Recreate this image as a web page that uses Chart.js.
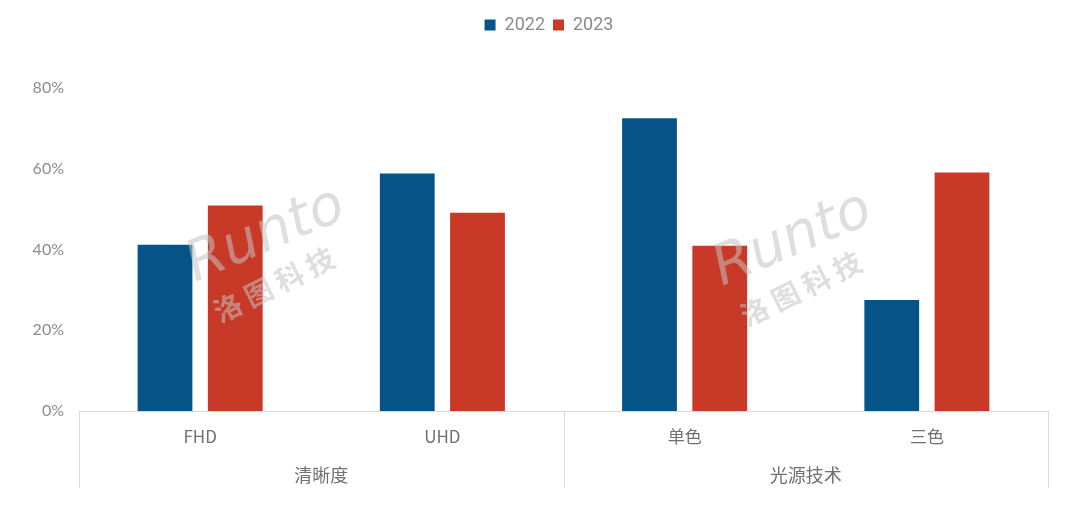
<!DOCTYPE html>
<html>
<head>
<meta charset="utf-8">
<script src="https://cdn.jsdelivr.net/npm/chart.js@4"></script>
<style>
html,body{margin:0;padding:0;background:#fff;}
#wrap{width:1080px;height:520px;position:relative;}
</style>
</head>
<body>
<div id="wrap"><canvas id="c" width="1080" height="520"></canvas></div>
<script>
const categories = ['FHD', 'UHD', '单色', '三色'];
const groups = ['清晰度', '光源技术'];
const series2022 = [41.2, 58.8, 72.5, 27.5];
const series2023 = [50.9, 49.1, 40.9, 59.1];
const seriesNames = ['2022', '2023'];
const yTicks = [0, 20, 40, 60, 80];
const watermarkText = ['Runto', '洛 图 科 技'];

const legendMargin = {
  id: 'legendMargin',
  beforeInit(chart) {
    const fit = chart.legend.fit;
    chart.legend.fit = function () {
      fit.bind(chart.legend)();
      this.height += 44;
    };
  },
  afterLayout(chart) {
    chart.legend.left += 25;
    chart.legend.right += 25;
  }
};

const watermark = {
  id: 'watermark',
  afterDatasetsDraw(chart) {
    const ctx = chart.ctx;
    const spots = [[195, 282], [722, 286]];
    ctx.save();
    spots.forEach(([x, y]) => {
      ctx.save();
      ctx.translate(x, y);
      ctx.rotate(-0.40);
      ctx.fillStyle = 'rgba(195,195,195,0.55)';
      ctx.textBaseline = 'alphabetic';
      ctx.font = 'italic 400 56px "DejaVu Sans"';
      ctx.fillText(watermarkText[0], 0, 0);
      ctx.rotate(-0.06);
      ctx.font = 'bold 28px "Noto Sans CJK SC"';
      ctx.fillText(watermarkText[1], 4, 48);
      ctx.restore();
    });
    ctx.restore();
  }
};

const groupLines = {
  id: 'groupLines',
  afterDraw(chart) {
    const x = chart.scales.x;
    const area = chart.chartArea;
    const ctx = chart.ctx;
    const step = x.getPixelForValue(1) - x.getPixelForValue(0);
    const bounds = [x.getPixelForValue(0) - step / 2, (x.getPixelForValue(1) + x.getPixelForValue(2)) / 2, x.getPixelForValue(3) + step / 2];
    ctx.save();
    ctx.strokeStyle = '#d9d9d9';
    ctx.lineWidth = 1;
    bounds.forEach(b => {
      const px = Math.round(b) + 0.5;
      ctx.beginPath();
      ctx.moveTo(px, area.bottom);
      ctx.lineTo(px, area.bottom + 77);
      ctx.stroke();
    });
    ctx.restore();
  }
};

new Chart(document.getElementById('c'), {
  type: 'bar',
  data: {
    labels: categories,
    datasets: [
      { label: seriesNames[0], data: series2022, backgroundColor: '#065487', categoryPercentage: 0.58, barPercentage: 0.78 },
      { label: seriesNames[1], data: series2023, backgroundColor: '#c93927', categoryPercentage: 0.58, barPercentage: 0.78 }
    ]
  },
  options: {
    responsive: false,
    animation: false,
    layout: { padding: { left: 0, right: 32, top: 8, bottom: 29 } },
    plugins: {
      legend: {
        position: 'top',
        labels: {
          boxWidth: 11, boxHeight: 11, padding: 8,
          color: '#8a8a8a',
          font: { family: 'Roboto, "Noto Sans"', size: 18 }
        }
      },
      tooltip: { enabled: false }
    },
    scales: {
      y: {
        min: 0, max: 80,
        afterFit(s) { s.width = 79; },
        afterBuildTicks(s) { s.ticks = yTicks.map(v => ({ value: v })); },
        grid: { display: false, drawTicks: false },
        border: { display: false },
        ticks: {
          padding: 15,
          color: '#8c8c8c',
          font: { family: 'Lato, "Noto Sans"', size: 16 },
          callback: v => v + '%'
        }
      },
      x: {
        position: 'bottom',
        afterFit(s) { s.height = 40; },
        grid: { display: false, drawTicks: false },
        border: { display: true, color: '#d9d9d9', width: 1 },
        ticks: {
          padding: 15,
          color: '#707070',
          font: { family: '"Noto Sans CJK SC"', size: 17 }
        }
      },
      x2: {
        type: 'category',
        labels: groups,
        position: 'bottom',
        offset: true,
        afterFit(s) { s.height = 40; },
        grid: { display: false, drawTicks: false },
        border: { display: false },
        ticks: {
          padding: 13,
          color: '#707070',
          font: { family: '"Noto Sans CJK SC"', size: 18 }
        }
      }
    }
  },
  plugins: [legendMargin, watermark, groupLines]
});
</script>
</body>
</html>
